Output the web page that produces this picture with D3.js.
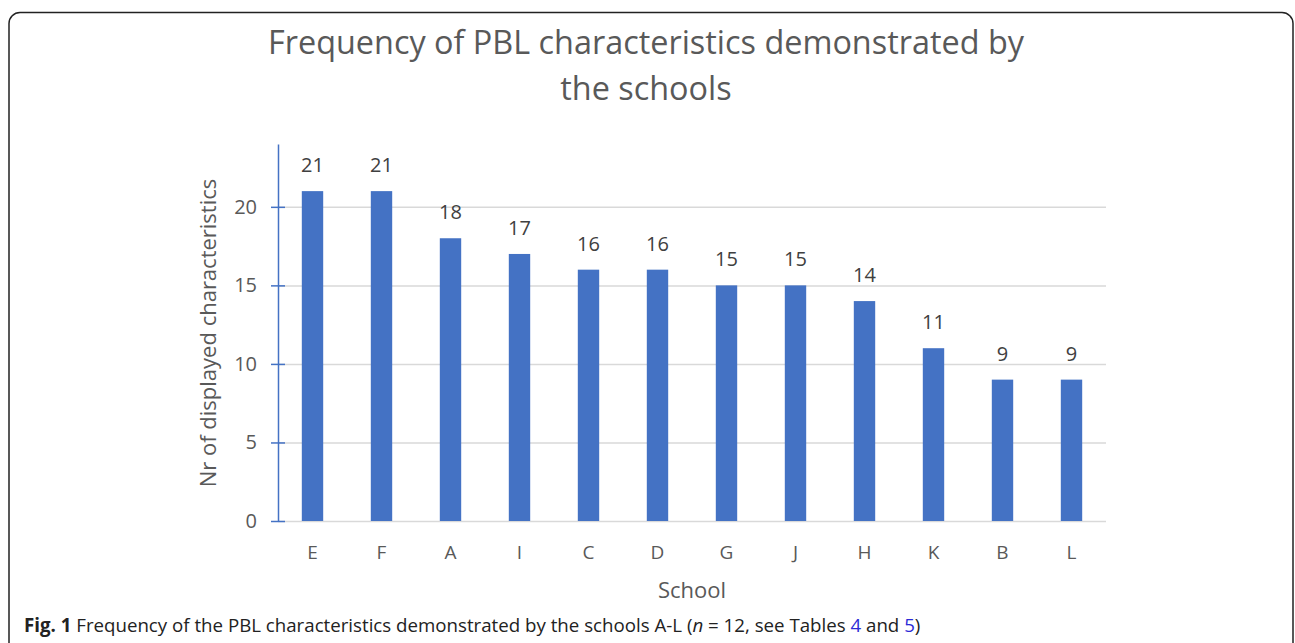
<!DOCTYPE html>
<html>
<head>
<meta charset="utf-8">
<script src="https://cdn.jsdelivr.net/npm/d3@7"></script>
<style>
  body { margin: 0; background: #fff; font-family: "Open Sans", sans-serif; }
</style>
</head>
<body>
<div id="chart"></div>
<script>
const schools = ["E", "F", "A", "I", "C", "D", "G", "J", "H", "K", "B", "L"];
const counts = [21, 21, 18, 17, 16, 16, 15, 15, 14, 11, 9, 9];
const yTicks = [0, 5, 10, 15, 20];

const width = 1295;
const height = 643;
const margin = { top: 144, bottom: 122, left: 278, right: 189 };

const svg = d3.select("#chart")
    .append("svg")
    .attr("width", width)
    .attr("height", height);

// frame round the figure
svg.append("rect")
    .attr("x", 9)
    .attr("y", 12.5)
    .attr("width", 1284)
    .attr("height", 660)
    .attr("rx", 11)
    .attr("fill", "none")
    .attr("stroke", "#222")
    .attr("stroke-width", 1.5);

const x = d3.scaleBand()
    .domain(schools)
    .range([margin.left, width - margin.right])
    .paddingInner(0.69)
    .paddingOuter(0.345);

const y = d3.scaleLinear()
    .domain([0, 24])
    .range([height - margin.bottom, margin.top]);

// gridlines
svg.append("g")
    .selectAll("line")
    .data(yTicks)
    .enter()
    .append("line")
    .attr("x1", margin.left)
    .attr("x2", width - margin.right)
    .attr("y1", d => y(d) + 0.5)
    .attr("y2", d => y(d) + 0.5)
    .attr("stroke", "#d9d9d9")
    .attr("stroke-width", 1.5);

svg.selectAll(".bar")
    .data(counts)
    .enter()
    .append("rect")
    .attr("class", "bar")
    .attr("x", (d, i) => x(schools[i]))
    .attr("y", d => y(d))
    .attr("width", x.bandwidth())
    .attr("height", d => y(0) - y(d))
    .attr("fill", "#4472c4");

svg.selectAll(".val")
    .data(counts)
    .enter()
    .append("text")
    .attr("class", "val")
    .attr("x", (d, i) => x(schools[i]) + x.bandwidth() / 2)
    .attr("y", d => y(d) - 19)
    .attr("text-anchor", "middle")
    .style("font-size", "20px")
    .style("fill", "#404040")
    .text(d => d);

// y axis
const yAxis = svg.append("g")
    .attr("transform", `translate(${margin.left},0)`)
    .call(d3.axisLeft(y).tickValues(yTicks).tickSizeInner(7).tickSizeOuter(0).tickPadding(14));
yAxis.select(".domain").attr("stroke", "#4472c4").attr("stroke-width", 1.5);
yAxis.selectAll(".tick line")
    .attr("x1", -7).attr("x2", 7)
    .attr("stroke", "#4472c4").attr("stroke-width", 1.5);
yAxis.selectAll("text")
    .style("font-family", "Open Sans")
    .style("font-size", "20px")
    .style("fill", "#595959");

// x axis
const xAxis = svg.append("g")
    .attr("transform", `translate(0,${y(0)})`)
    .call(d3.axisBottom(x).tickSize(0).tickPadding(25));
xAxis.select(".domain").remove();
xAxis.selectAll("text")
    .style("font-family", "Open Sans")
    .style("font-size", "19px")
    .style("fill", "#595959");

svg.append("text")
    .attr("x", (margin.left + width - margin.right) / 2)
    .attr("y", 598)
    .attr("text-anchor", "middle")
    .style("font-size", "22px")
    .style("fill", "#595959")
    .text("School");

svg.append("text")
    .attr("transform", "rotate(-90)")
    .attr("x", -333)
    .attr("y", 216)
    .attr("text-anchor", "middle")
    .style("font-size", "22px")
    .style("fill", "#595959")
    .text("Nr of displayed characteristics");

const title = svg.append("text")
    .attr("text-anchor", "middle")
    .style("font-size", "32.4px")
    .style("fill", "#595959");
title.append("tspan").attr("x", 646).attr("y", 54).text("Frequency of PBL characteristics demonstrated by");
title.append("tspan").attr("x", 646).attr("y", 100).text("the schools");

// caption
const cap = svg.append("text")
    .attr("x", 24)
    .attr("y", 632)
    .style("font-size", "18.7px")
    .style("fill", "#222");
cap.append("tspan").style("font-weight", "bold").text("Fig. 1");
cap.append("tspan").text(" Frequency of the PBL characteristics demonstrated by the schools A-L (");
cap.append("tspan").style("font-style", "italic").text("n");
cap.append("tspan").text(" = 12, see Tables ");
cap.append("tspan").style("fill", "#2b2bd6").text("4");
cap.append("tspan").text(" and ");
cap.append("tspan").style("fill", "#2b2bd6").text("5");
cap.append("tspan").text(")");
</script>
</body>
</html>
